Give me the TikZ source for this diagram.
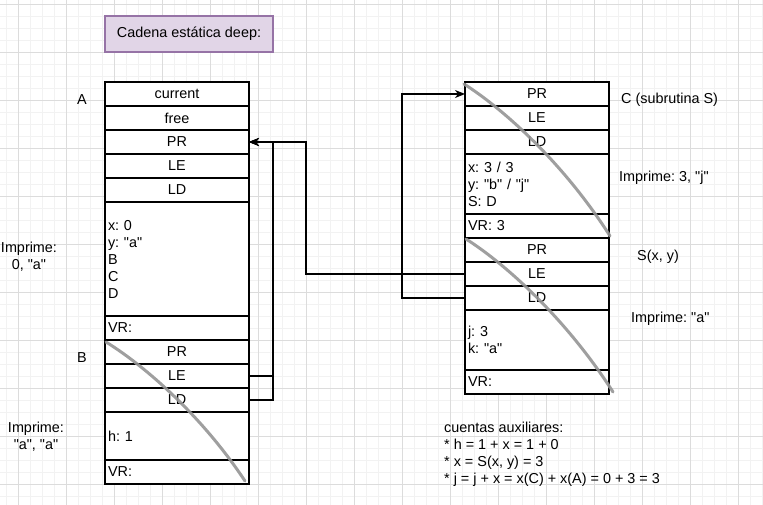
\documentclass[tikz,border=0pt]{standalone}
\usepackage{fontspec}
\setmainfont{Liberation Sans}[Ligatures=TeXOff]
\usetikzlibrary{arrows.meta}
\definecolor{gridmajor}{HTML}{DCDCDC}
\definecolor{gridminor}{HTML}{F2F2F2}
\definecolor{titlefill}{HTML}{E1D5E7}
\definecolor{titledraw}{HTML}{9673A6}
\definecolor{curvegray}{HTML}{959595}
\tikzset{
  cell/.style={draw=black, line width=1.2pt, minimum width=144pt, minimum height=24pt, inner sep=0pt, outer sep=0pt, fill=white},
  cellL/.style={cell, text width=138pt, align=left, inner xsep=3pt},
  conn/.style={draw=black, line width=1.2pt},
  connarrow/.style={conn, -{Stealth[length=10pt,width=8pt,inset=3pt]}},
  lbl/.style={inner sep=0pt, align=center},
  lblL/.style={inner sep=0pt, align=left, anchor=west},
  frameend/.style={draw=curvegray, line width=3pt, line cap=round, opacity=0.9},
}
\frenchspacing
\begin{document}
\frenchspacing
\begin{tikzpicture}[x=1pt, y=-1pt, font=\fontsize{14.4}{17}\selectfont\frenchspacing]
\useasboundingbox (0,0) rectangle (763,505);
\fill[white] (0,0) rectangle (763,505);
% grid
\foreach \x in {6,18,...,762} \draw[gridminor, line width=0.8pt] (\x,0) -- (\x,505);
\foreach \y in {4,16,...,504} \draw[gridminor, line width=0.8pt] (0,\y) -- (763,\y);
\foreach \x in {18,66,...,762} \draw[gridmajor, line width=0.8pt] (\x,0) -- (\x,505);
\foreach \y in {4,52,...,504} \draw[gridmajor, line width=0.8pt] (0,\y) -- (763,\y);

% title
\node[draw=titledraw, fill=titlefill, line width=1.2pt, minimum width=168pt, minimum height=36pt, inner sep=0pt] (title) at (189,34) {Cadena estática deep:};

% frame A
\node[cell] (aCur) at (177,94) {current};
\node[cell] (aFree) at (177,118) {free};
\node[cell] (aPR) at (177,142) {PR};
\node[cell] (aLE) at (177,166) {LE};
\node[cell] (aLD) at (177,190) {LD};
\node[cellL, minimum height=114pt] (aVars) at (177,259) {x: 0\\y: "a"\\B\\C\\D};
\node[cellL] (aVR) at (177,328) {VR:};
% frame B
\node[cell] (bPR) at (177,352) {PR};
\node[cell] (bLE) at (177,376) {LE};
\node[cell] (bLD) at (177,400) {LD};
\node[cellL, minimum height=48pt] (bVars) at (177,436) {h: 1};
\node[cellL] (bVR) at (177,472) {VR:};
% frame C
\node[cell] (cPR) at (537,94) {PR};
\node[cell] (cLE) at (537,118) {LE};
\node[cell] (cLD) at (537,142) {LD};
\node[cellL, minimum height=60pt] (cVars) at (537,184) {x: 3 / 3\\y: "b" / "j"\\S: D};
\node[cellL] (cVR) at (537,226) {VR: 3};
% frame S
\node[cell] (sPR) at (537,250) {PR};
\node[cell] (sLE) at (537,274) {LE};
\node[cell] (sLD) at (537,298) {LD};
\node[cellL, minimum height=60pt] (sVars) at (537,340) {j: 3\\k: "a"};
\node[cellL] (sVR) at (537,382) {VR:};

% frame end curves
\draw[frameend] (bPR.north west) ++(1,2) .. controls (145,366) and (202,416) .. (245,481);
\draw[frameend] (cPR.north west) ++(-1,2) .. controls (505,110) and (565,165) .. (610,236);
\draw[frameend] (sPR.north west) ++(1,1) .. controls (507,265) and (567,320) .. (613,392);

% connectors
\draw[connarrow] (bLE.east) -- ++(24,0) |- (aPR.east);
\draw[connarrow] (bLD.east) -- ++(24,0) |- (aPR.east);
\draw[connarrow] (sLE.west) -- ++(-159,0) |- (aPR.east);
\draw[connarrow] (sLD.west) -- ++(-63,0) |- (cPR.west);

% labels
\node[lbl] (labA) at (82,100) {A};
\node[lbl] (labB) at (82,358) {B};
\node[lbl] (imp1) at (29,256.5) {Imprime:\\0, "a"};
\node[lbl] (imp2) at (36,436.5) {Imprime:\\"a", "a"};
\node[lblL] (labC) at (621,100) {C (subrutina S)};
\node[lblL] (impC) at (619,178) {Imprime: 3, "j"};
\node[lblL] (labS) at (637,257) {S(x, y)};
\node[lblL] (impS) at (631,319) {Imprime: "a"};
\node[lblL] (aux) at (444,454.5) {cuentas auxiliares:\\* h = 1 + x = 1 + 0\\* x = S(x, y) = 3\\* j = j + x = x(C) + x(A) = 0 + 3 = 3};
\end{tikzpicture}
\end{document}
